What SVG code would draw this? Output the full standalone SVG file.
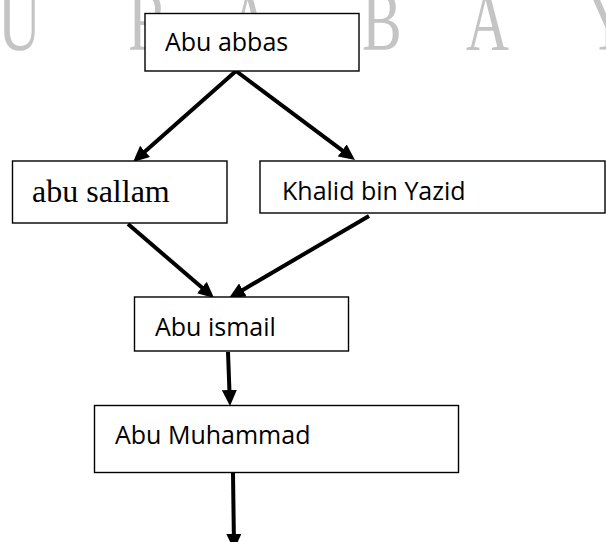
<svg xmlns="http://www.w3.org/2000/svg" width="606" height="542" viewBox="0 0 606 542">
  <style>
    .box { fill: #ffffff; stroke: #000000; stroke-width: 1.4; }
    .lbl { font-family: "Open Sans", "Noto Sans", sans-serif; font-size: 25px; fill: #000000; }
    .lbl-serif { font-family: "Liberation Serif", "Times New Roman", serif; font-size: 32px; fill: #000000; }
    .wm { font-family: "Liberation Serif", "Times New Roman", serif; font-size: 85px; fill: #c4c4c4; }
    .conn { stroke: #000000; stroke-width: 4; fill: none; marker-end: url(#arrow); }
  </style>
  <defs>
    <marker id="arrow" markerUnits="userSpaceOnUse" markerWidth="16" markerHeight="15" refX="5" refY="7.5" orient="auto" viewBox="0 0 16 15">
      <path d="M0,0 L16,7.5 L0,15 z" fill="#000000"/>
    </marker>
  </defs>

  <rect width="606" height="542" fill="#ffffff"/>

  <g id="watermark">
    <text class="wm" transform="translate(-2,50) scale(0.7,1)">U</text>
    <text class="wm" transform="translate(128,50) scale(0.7,1)">R</text>
    <text class="wm" transform="translate(228,50) scale(0.7,1)">A</text>
    <text class="wm" transform="translate(362,50) scale(0.7,1)">B</text>
    <text class="wm" transform="translate(466,50) scale(0.7,1)">A</text>
    <text class="wm" transform="translate(587,50) scale(0.7,1)">Y</text>
  </g>

  <g id="connectors">
    <line class="conn" x1="236" y1="71" x2="141.3" y2="154.7"/>
    <line class="conn" x1="236" y1="71" x2="346.2" y2="153.4"/>
    <line class="conn" x1="128" y1="224" x2="205.7" y2="290.8"/>
    <line class="conn" x1="369" y1="216" x2="238.5" y2="292.4"/>
    <line class="conn" x1="228" y1="352" x2="229.6" y2="395"/>
    <line class="conn" x1="233" y1="473" x2="233.9" y2="539"/>
  </g>

  <g id="node-abu-abbas">
    <rect class="box" x="145" y="13.5" width="214" height="57.5"/>
    <text class="lbl" x="165" y="51">Abu abbas</text>
  </g>

  <g id="node-abu-sallam">
    <rect class="box" x="12.5" y="161" width="214.5" height="62"/>
    <text class="lbl-serif" x="32" y="202">abu sallam</text>
  </g>

  <g id="node-khalid-bin-yazid">
    <rect class="box" x="260" y="161" width="345" height="52"/>
    <text class="lbl" x="282" y="200">Khalid bin Yazid</text>
  </g>

  <g id="node-abu-ismail">
    <rect class="box" x="134.5" y="297" width="214" height="54"/>
    <text class="lbl" x="155" y="336">Abu ismail</text>
  </g>

  <g id="node-abu-muhammad">
    <rect class="box" x="94.5" y="405.5" width="364" height="67"/>
    <text class="lbl" x="115" y="444">Abu Muhammad</text>
  </g>
</svg>
